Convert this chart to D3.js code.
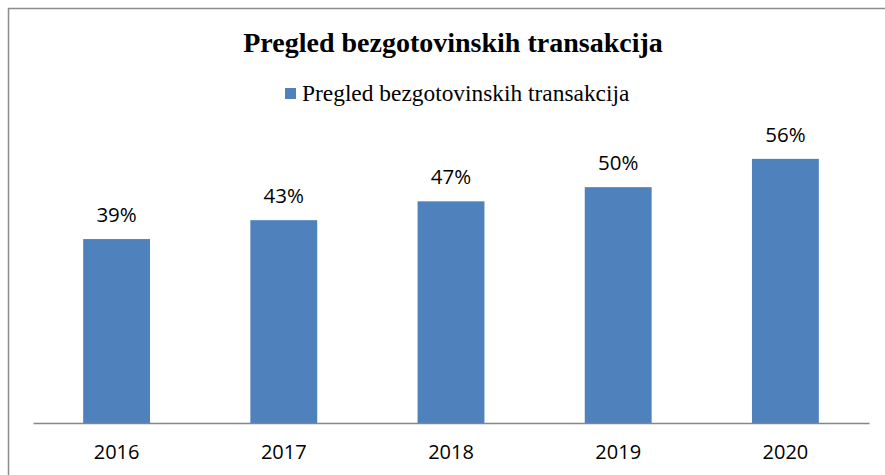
<!DOCTYPE html>
<html>
<head>
<meta charset="utf-8">
<script src="https://cdn.jsdelivr.net/npm/d3@7"></script>
<style>
    body { margin: 0; background: #fff; }
    svg { display: block; }
</style>
</head>
<body>
<div id="chart"></div>
<script>
const years = ["2016", "2017", "2018", "2019", "2020"];
const shares = [0.39, 0.43, 0.47, 0.50, 0.56];
const seriesName = "Pregled bezgotovinskih transakcija";
const chartTitle = "Pregled bezgotovinskih transakcija";

const width = 885;
const height = 475;
const barColor = "#4f81bd";

const svg = d3.select("#chart")
    .append("svg")
    .attr("width", width)
    .attr("height", height);

// chart area frame (only top and left edges visible in the crop)
svg.append("path")
    .attr("d", `M8.5,${height} V8.5 H${width}`)
    .attr("fill", "none")
    .attr("stroke", "#8c8c8c")
    .attr("stroke-width", 1.5);

const x = d3.scaleBand()
    .domain(years)
    .range([33, 869])
    .paddingInner(0.6)
    .paddingOuter(0.3);

const y = d3.scaleLinear()
    .domain([0, 0.6])
    .range([423, 140]);

svg.append("text")
    .attr("x", 453)
    .attr("y", 52)
    .attr("text-anchor", "middle")
    .attr("font-family", "Liberation Serif, serif")
    .attr("font-weight", "bold")
    .attr("font-size", 28)
    .attr("fill", "#000")
    .text(chartTitle);

// legend
const legend = svg.append("g").attr("transform", "translate(285,88)");
legend.append("rect")
    .attr("width", 11)
    .attr("height", 11)
    .attr("fill", barColor);
legend.append("text")
    .attr("x", 17)
    .attr("y", 13)
    .attr("font-family", "Liberation Serif, serif")
    .attr("font-size", 23.4)
    .attr("fill", "#000")
    .text(seriesName);

const data = years.map((year, i) => ({ year, value: shares[i] }));

svg.selectAll(".bar")
    .data(data)
    .enter().append("rect")
    .attr("class", "bar")
    .attr("x", d => x(d.year))
    .attr("y", d => y(d.value))
    .attr("width", x.bandwidth())
    .attr("height", d => y(0) - y(d.value))
    .attr("fill", barColor);

svg.selectAll(".label")
    .data(data)
    .enter().append("text")
    .attr("class", "label")
    .attr("x", d => x(d.year) + x.bandwidth() / 2)
    .attr("y", d => y(d.value) - 17)
    .attr("text-anchor", "middle")
    .attr("font-family", "Open Sans, sans-serif")
    .attr("font-size", 20.5)
    .attr("fill", "#000")
    .text(d => d3.format(".0%")(d.value));

const xAxis = svg.append("g")
    .attr("transform", `translate(0,${y(0)})`)
    .call(d3.axisBottom(x).tickSize(0).tickPadding(22));

xAxis.select(".domain")
    .attr("stroke", "#868686")
    .attr("stroke-width", 1.5);

xAxis.selectAll("text")
    .attr("font-family", "Open Sans, sans-serif")
    .attr("font-size", 20)
    .attr("fill", "#000");
</script>
</body>
</html>
